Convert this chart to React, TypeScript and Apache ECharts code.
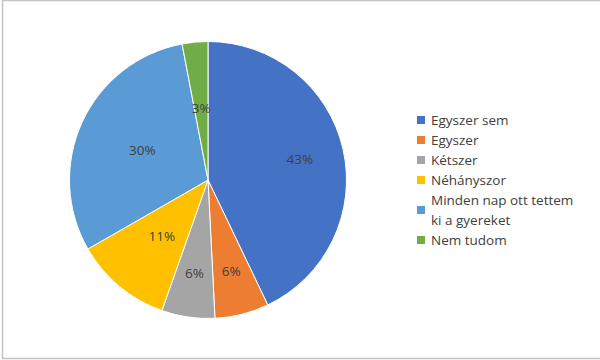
import React, { useEffect, useRef } from "react";
import * as echarts from "echarts";

const categories = [
  "Egyszer sem",
  "Egyszer",
  "Kétszer",
  "Néhányszor",
  "Minden nap ott tettem ki a gyereket",
  "Nem tudom",
];
const values = [42.9, 6.3, 6.2, 11.3, 30.3, 3.0];
const colors = ["#4472C4", "#ED7D31", "#A5A5A5", "#FFC000", "#5B9BD5", "#70AD47"];
// labels drawn nearer the rim (Excel best-fit placement)
const outerLabelIdx = [0, 1, 2];

const FONT = "'Open Sans', sans-serif";

export default function App() {
  const ref = useRef<HTMLDivElement>(null);
  useEffect(() => {
    document.body.style.margin = "0";
    const chart = echarts.init(ref.current!, null, { renderer: "svg" });
    const labelStyle = {
      color: "#404040",
      fontSize: 13.5,
      fontFamily: FONT,
      formatter: (p: any) => Math.round(p.percent) + "%",
    };
    chart.setOption({
      animation: false,
      backgroundColor: "#ffffff",
      graphic: [
        {
          type: "rect",
          shape: { x: 2.5, y: 0.5, width: 600, height: 358 },
          style: { fill: "none", stroke: "#c4c4c4", lineWidth: 1.5 },
          silent: true,
        },
      ],
      legend: {
        orient: "vertical",
        left: 415,
        top: 110,
        padding: 0,
        itemGap: 0,
        itemWidth: 10,
        itemHeight: 10,
        icon: "rect",
        data: categories,
        formatter: (name: string) =>
          name === categories[4] ? "Minden nap ott tettem\nki a gyereket" : name,
        textStyle: {
          color: "#404040",
          fontSize: 13.5,
          fontFamily: FONT,
          lineHeight: 20,
        },
      },
      series: [
        {
          type: "pie",
          center: [208, 180],
          radius: [0, 138.5],
          startAngle: 90,
          clockwise: true,
          silent: true,
          itemStyle: { borderColor: "#ffffff", borderWidth: 1 },
          label: { show: true, position: "inside", ...labelStyle },
          labelLine: { show: false },
          data: categories.map((name, i) => ({
            name,
            value: values[i],
            itemStyle: { color: colors[i] },
            label: { show: !outerLabelIdx.includes(i) },
          })),
        },
        {
          type: "pie",
          center: [208, 180],
          radius: [44, 138.5],
          startAngle: 90,
          clockwise: true,
          silent: true,
          itemStyle: { color: "transparent", borderWidth: 0 },
          label: { show: true, position: "inside", ...labelStyle },
          labelLine: { show: false },
          data: categories.map((name, i) => ({
            name,
            value: values[i],
            label: { show: outerLabelIdx.includes(i) },
          })),
        },
      ],
    });
    return () => chart.dispose();
  }, []);
  return <div ref={ref} style={{ width: 600, height: 360 }} />;
}
